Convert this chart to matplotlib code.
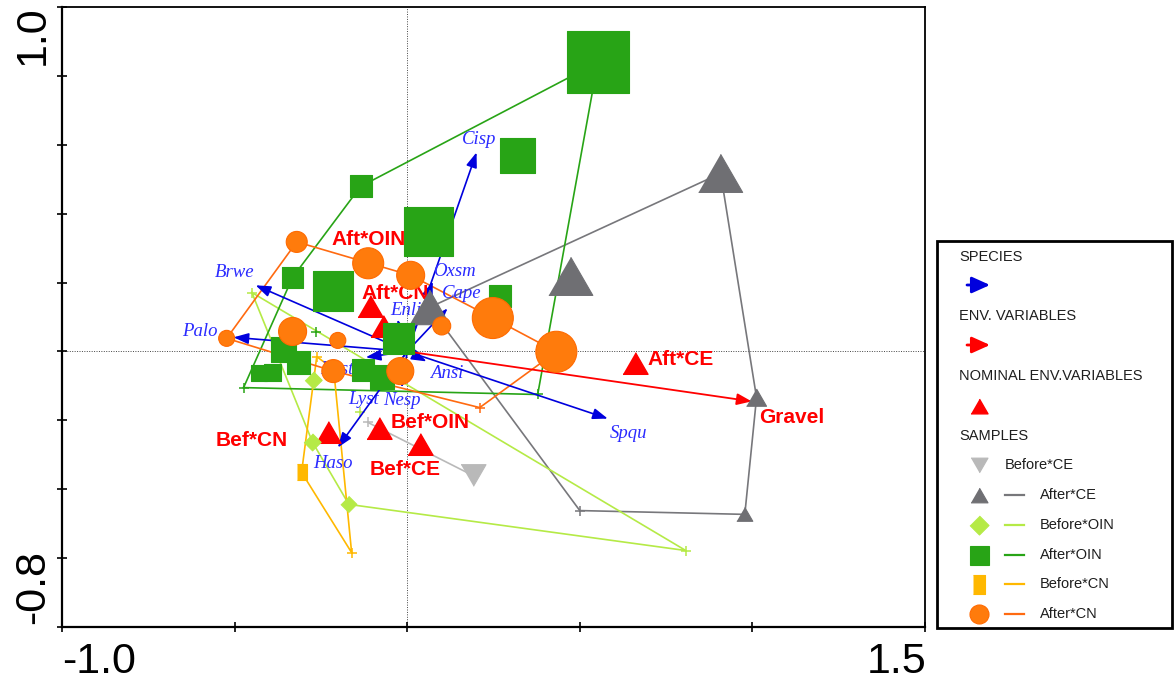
import numpy as np
import matplotlib
matplotlib.use("Agg")
import matplotlib.pyplot as plt
from matplotlib import font_manager
from matplotlib.patches import Rectangle

# ---------------- data ----------------
# species scores (arrow tips)
species = ["Cisp", "Brwe", "Palo", "Oxsm", "Cape", "Enli", "Ansi", "Spqu",
           "Lyst", "Nesp", "Haso", "Post"]
species_x = [0.201, -0.439, -0.503, 0.074, 0.117, -0.028, 0.056, 0.581,
             -0.077, -0.016, -0.201, -0.120]
species_y = [0.578, 0.192, 0.041, 0.203, 0.125, 0.093, -0.029, -0.195,
             -0.105, -0.105, -0.279, -0.017]

# quantitative environmental variable
env_names = ["Gravel"]
env_x = [0.998]
env_y = [-0.145]

# nominal environmental variables (centroids)
nominal = ["Aft*CN", "Aft*OIN", "Aft*CE", "Bef*CN", "Bef*OIN", "Bef*CE"]
nominal_x = [-0.109, -0.071, 0.659, -0.230, -0.083, 0.036]
nominal_y = [0.131, 0.073, -0.035, -0.235, -0.221, -0.270]

# sample scores per class; cover = symbol value (0 drawn as "+")
groups = ["Before*CE", "After*CE", "Before*OIN", "After*OIN", "Before*CN", "After*CN"]

bce_x = [-0.114, 0.190]
bce_y = [-0.206, -0.360]
bce_cover = [0.0, 2.5]

ace_x = [0.908, 0.474, 0.065, 1.012, 0.978, 0.500]
ace_y = [0.517, 0.218, 0.128, -0.134, -0.473, -0.462]
ace_cover = [4.4, 4.4, 4.0, 2.0, 1.6, 0.0]

boin_x = [-0.450, -0.271, -0.274, -0.169, 0.807, -0.138]
boin_y = [0.171, -0.084, -0.264, -0.444, -0.578, -0.177]
boin_cover = [0.0, 1.7, 1.7, 1.6, 0.0, 0.0]

aoin_x = [0.552, 0.320, -0.135, 0.062, -0.332, -0.216, 0.268, -0.026, -0.358,
          -0.314, -0.430, -0.390, -0.129, -0.074, -0.265, -0.474, 0.378]
aoin_y = [0.839, 0.568, 0.479, 0.348, 0.215, 0.176, 0.160, 0.039, 0.006,
          -0.032, -0.064, -0.061, -0.055, -0.073, 0.055, -0.105, -0.125]
aoin_cover = [6.2, 3.5, 2.2, 4.9, 2.1, 4.0, 2.2, 3.1, 2.5,
              2.3, 1.6, 1.7, 2.2, 2.4, 0.0, 0.0, 0.0]

bcn_x = [-0.262, -0.213, -0.306, -0.161]
bcn_y = [-0.015, -0.052, -0.351, -0.584]
bcn_cover = [0.0, 0.0, 1.6, 0.0]

acn_x = [-0.320, -0.113, 0.010, -0.332, -0.201, 0.100, 0.248, 0.432,
         -0.214, -0.020, -0.523, 0.210]
acn_y = [0.318, 0.256, 0.221, 0.058, 0.032, 0.074, 0.097, -0.001,
         -0.057, -0.057, 0.038, -0.163]
acn_cover = [2.1, 3.1, 2.8, 2.8, 1.6, 1.8, 4.1, 4.1, 2.3, 2.7, 1.6, 0.0]

sample_x = [bce_x, ace_x, boin_x, aoin_x, bcn_x, acn_x]
sample_y = [bce_y, ace_y, boin_y, aoin_y, bcn_y, acn_y]
sample_cover = [bce_cover, ace_cover, boin_cover, aoin_cover, bcn_cover, acn_cover]

# ---------------- styling ----------------
W, H = 1175, 684
PX = 72.0 / 100.0          # pixels -> points at dpi 100

avail = {f.name for f in font_manager.fontManager.ttflist}
SANS = "Liberation Sans" if "Liberation Sans" in avail else "DejaVu Sans"
NARROW = "Liberation Sans Narrow" if "Liberation Sans Narrow" in avail else SANS
SERIF = "Liberation Serif" if "Liberation Serif" in avail else "DejaVu Serif"

BLUE = "#0000dd"
BLUE_TXT = "#2b2bff"
RED = "#ff0000"

TRI_UP = [(-1, -0.866), (1, -0.866), (0, 0.866)]
TRI_DOWN = [(-1, 0.866), (1, 0.866), (0, -0.866)]
DIAMOND = [(0, 1), (1, 0), (0, -1), (-1, 0)]
BAR = [(-0.6, -1), (0.6, -1), (0.6, 1), (-0.6, 1)]

group_style = {
    "Before*CE": dict(marker=TRI_DOWN, face="#b9b9b9", edge="#b9b9b9", line="#b9b9b9"),
    "After*CE": dict(marker=TRI_UP, face="#6f6f73", edge="#6f6f73", line="#77777b"),
    "Before*OIN": dict(marker=DIAMOND, face="#b5ea46", edge="#b5ea46", line="#b5ea46"),
    "After*OIN": dict(marker="s", face="#28a416", edge="#28a416", line="#28a416"),
    "Before*CN": dict(marker=BAR, face="#ffb800", edge="#ffb800", line="#ffb800"),
    "After*CN": dict(marker="o", face="#ff7b0c", edge="#ff6a00", line="#ff6a10"),
}

# label offsets (pixels: right, up) from the point they describe
species_offset = {"Cisp": (3, 13), "Brwe": (-21, 13), "Palo": (-34, 6),
                  "Oxsm": (22, 10), "Cape": (14, 15), "Enli": (8, 9),
                  "Ansi": (20, -12), "Spqu": (21, -15), "Lyst": (-17, -12),
                  "Nesp": (0, -13), "Haso": (-5, -16), "Post": (-29, -12)}
env_offset = {"Gravel": (40, -16)}
nominal_offset = {"Aft*CN": (26, 13), "Aft*OIN": (-14, 87), "Aft*CE": (46, 4),
                  "Bef*CN": (-76, -8), "Bef*OIN": (52, 5), "Bef*CE": (-15, -25)}


def convex_hull(px, py):
    pts = sorted(set(zip(px, py)))
    if len(pts) < 3:
        return pts
    def cross(o, a, b):
        return (a[0] - o[0]) * (b[1] - o[1]) - (a[1] - o[1]) * (b[0] - o[0])
    lower, upper = [], []
    for p in pts:
        while len(lower) >= 2 and cross(lower[-2], lower[-1], p) <= 0:
            lower.pop()
        lower.append(p)
    for p in reversed(pts):
        while len(upper) >= 2 and cross(upper[-2], upper[-1], p) <= 0:
            upper.pop()
        upper.append(p)
    hull = lower[:-1] + upper[:-1]
    return hull + [hull[0]]


# ---------------- figure ----------------
fig = plt.figure(figsize=(W / 100, H / 100), dpi=100)
ax = fig.add_axes([62 / W, 1 - 627 / H, 863 / W, 620 / H])
ax.set_xlim(-1.0, 1.5)
ax.set_ylim(-0.8, 1.0)
ax.set_xticks([-1.0, -0.5, 0.0, 0.5, 1.0, 1.5])
ax.set_yticks(np.round(np.arange(-0.8, 1.01, 0.2), 1))
ax.set_xticklabels([])
ax.set_yticklabels([])
ax.tick_params(direction="inout", length=7, width=1.2, colors="black")
for side in ["left", "bottom", "top", "right"]:
    ax.spines[side].set_linewidth(1.6 if side in ("left", "bottom") else 1.3)
    ax.spines[side].set_color("black")

ax.axhline(0, color="#444444", lw=0.7, ls=(0, (1, 1.5)), zorder=0)
ax.axvline(0, color="#444444", lw=0.7, ls=(0, (1, 1.5)), zorder=0)

# class envelopes
for g, gx, gy in zip(groups, sample_x, sample_y):
    st = group_style[g]
    hull = convex_hull(gx, gy)
    hx = [p[0] for p in hull]
    hy = [p[1] for p in hull]
    ax.plot(hx, hy, color=st["line"], lw=1.2, zorder=1, solid_joinstyle="miter")

# species arrows
for name, x, y in zip(species, species_x, species_y):
    ax.annotate("", xy=(x, y), xytext=(0, 0),
                arrowprops=dict(arrowstyle="-|>,head_length=0.9,head_width=0.33",
                                color=BLUE, lw=1.2, shrinkA=0, shrinkB=0,
                                mutation_scale=10), zorder=2)
    dx, dy = species_offset[name]
    ax.annotate(name, xy=(x, y), xytext=(dx * PX, dy * PX), textcoords="offset points",
                ha="center", va="center", fontsize=13.5, family=SERIF,
                style="italic", color=BLUE_TXT, zorder=2)

# environmental variable arrow
for name, x, y in zip(env_names, env_x, env_y):
    ax.annotate("", xy=(x, y), xytext=(0, 0),
                arrowprops=dict(arrowstyle="-|>,head_length=0.9,head_width=0.35",
                                color=RED, lw=1.3, shrinkA=0, shrinkB=0,
                                mutation_scale=10), zorder=2)
    dx, dy = env_offset[name]
    ax.annotate(name, xy=(x, y), xytext=(dx * PX, dy * PX), textcoords="offset points",
                ha="center", va="center", fontsize=15, family=SANS,
                weight="bold", color=RED, zorder=2)

# nominal variables
ax.plot(nominal_x, nominal_y, ls="none", marker=TRI_UP, ms=25 * PX,
        color=RED, mec=RED, zorder=2.2)
for name, x, y in zip(nominal, nominal_x, nominal_y):
    dx, dy = nominal_offset[name]
    ax.annotate(name, xy=(x, y), xytext=(dx * PX, dy * PX), textcoords="offset points",
                ha="center", va="center", fontsize=15, family=SANS,
                weight="bold", color=RED, zorder=2.3)

# samples
for k, (g, gx, gy, gc) in enumerate(zip(groups, sample_x, sample_y, sample_cover)):
    st = group_style[g]
    gx, gy, gc = np.array(gx), np.array(gy), np.array(gc)
    zero = gc == 0
    ax.plot(gx[zero], gy[zero], ls="none", marker="+", ms=7, mew=1.1,
            color=st["line"], zorder=1.5)
    pos = ~zero
    sizes = (gc[pos] * 10 * PX) ** 2
    ax.scatter(gx[pos], gy[pos], s=sizes, marker=st["marker"], c=st["face"],
               edgecolors=st["edge"], linewidths=0.8, zorder=3 + 0.1 * k)

# axis end labels
fig.text(62 / W, 1 - 662 / H, "-1.0", ha="left", va="center", fontsize=31,
         family=NARROW)
fig.text(926 / W, 1 - 662 / H, "1.5", ha="right", va="center", fontsize=31,
         family=NARROW)
fig.text(33 / W, 1 - 5 / H, "1.0", ha="center", va="top", rotation=90,
         fontsize=31, family=NARROW)
fig.text(33 / W, 1 - 624 / H, "-0.8", ha="center", va="bottom", rotation=90,
         fontsize=31, family=NARROW)

# ---------------- legend panel ----------------
lg = fig.add_axes([0, 0, 1, 1], zorder=5)
lg.set_xlim(0, W)
lg.set_ylim(H, 0)
lg.axis("off")
lg.patch.set_alpha(0)
lg.add_patch(Rectangle((937, 241), 235, 387, fill=False, lw=2.0, ec="black"))

TXT = "#1e1e1e"
LFS = 10.5
lg.text(959, 257, "SPECIES", ha="left", va="center", fontsize=LFS, family=SANS, color=TXT)
lg.annotate("", xy=(990, 285), xytext=(967, 285),
            arrowprops=dict(arrowstyle="-|>,head_length=1.0,head_width=0.45",
                            color=BLUE, lw=2.0, shrinkA=0, shrinkB=0, mutation_scale=11))
lg.text(959, 316, "ENV. VARIABLES", ha="left", va="center", fontsize=LFS, family=SANS, color=TXT)
lg.annotate("", xy=(990, 345), xytext=(967, 345),
            arrowprops=dict(arrowstyle="-|>,head_length=1.0,head_width=0.45",
                            color=RED, lw=2.0, shrinkA=0, shrinkB=0, mutation_scale=11))
lg.text(959, 376, "NOMINAL ENV.VARIABLES", ha="left", va="center", fontsize=LFS,
        family=SANS, color=TXT)
lg.plot([979], [406], marker=TRI_UP, ms=17 * PX, color=RED, ls="none")
lg.text(959, 436, "SAMPLES", ha="left", va="center", fontsize=LFS, family=SANS, color=TXT)

legend_rows = [465, 495, 525, 555, 584, 614]
legend_sym = {"Before*CE": 17, "After*CE": 17, "Before*OIN": 19,
              "After*OIN": 19, "Before*CN": 19, "After*CN": 19}
for g, yy in zip(groups, legend_rows):
    st = group_style[g]
    lg.plot([979], [yy], marker=st["marker"], ms=legend_sym[g] * PX, color=st["face"],
            mec=st["edge"], mew=0.8, ls="none")
    if g == "Before*CE":
        lg.text(1005, yy, g, ha="left", va="center", fontsize=LFS, family=SANS, color=TXT)
    else:
        lg.plot([1005, 1024], [yy, yy], color=st["line"], lw=1.6)
        lg.text(1040, yy, g, ha="left", va="center", fontsize=LFS, family=SANS, color=TXT)

fig.savefig("out.png", dpi=100)
